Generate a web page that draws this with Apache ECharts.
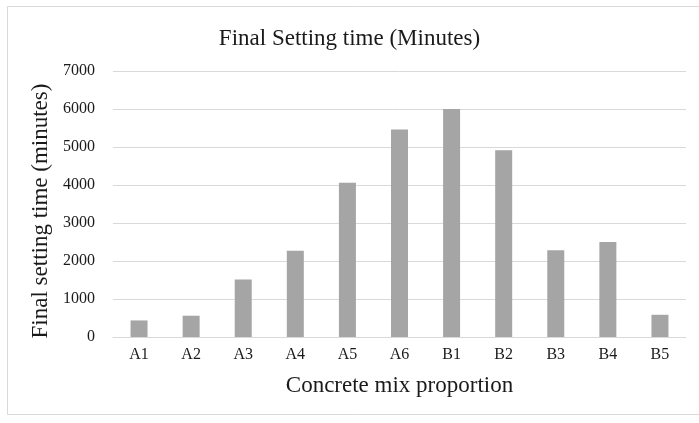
<!DOCTYPE html>
<html lang="en">
<head>
    <title>Final Setting time</title>
    <meta charset="utf-8">
</head>
<body style="margin:0">
<script type="text/javascript" src="https://cdn.jsdelivr.net/npm/echarts@6/dist/echarts.min.js"></script>
<div id="main" style="width: 699px;height: 423px"></div>
<script type="text/javascript">
    var mixes = ['A1', 'A2', 'A3', 'A4', 'A5', 'A6', 'B1', 'B2', 'B3', 'B4', 'B5'];
    var finalSetting = [436, 560, 1512, 2273, 4058, 5460, 6000, 4916, 2283, 2501, 585];
    var yTicks = [0, 1000, 2000, 3000, 4000, 5000, 6000, 7000];

    var serif = 'Liberation Serif';
    var myChart = echarts.init(document.getElementById('main'));
    var option = {
        animation: false,
        backgroundColor: '#fff',
        graphic: [{
            type: 'rect',
            shape: {x: 7.5, y: 6.5, width: 700, height: 408},
            style: {fill: 'none', stroke: '#d9d9d9', lineWidth: 1}
        }],
        title: {
            text: 'Final Setting time (Minutes)',
            left: 'center',
            top: 22,
            textStyle: {fontFamily: serif, fontSize: 23, fontWeight: 'normal', color: '#1a1a1a'}
        },
        grid: {left: 113, right: 13, top: 71, bottom: 86},
        xAxis: {
            type: 'category',
            data: mixes,
            name: 'Concrete mix proportion',
            nameLocation: 'middle',
            nameGap: 37,
            nameTextStyle: {fontFamily: serif, fontSize: 23, color: '#1a1a1a'},
            axisLine: {lineStyle: {color: '#d9d9d9'}},
            axisTick: {show: false},
            axisLabel: {fontFamily: serif, fontSize: 16, color: '#1a1a1a', margin: 10}
        },
        yAxis: {
            type: 'value',
            min: yTicks[0],
            max: yTicks[yTicks.length - 1],
            interval: 1000,
            name: 'Final setting time (minutes)',
            nameLocation: 'middle',
            nameGap: 52,
            nameTextStyle: {fontFamily: serif, fontSize: 23, color: '#1a1a1a', padding: [0, 14, 0, 0]},
            axisLine: {show: false},
            axisTick: {show: false},
            splitLine: {lineStyle: {color: '#d9d9d9'}},
            axisLabel: {
                fontFamily: serif, fontSize: 16, color: '#1a1a1a', margin: 18,
                formatter: function (v) { return String(v); }
            }
        },
        series: [{
            type: 'bar',
            data: finalSetting,
            barWidth: 17,
            itemStyle: {color: '#a5a5a5'}
        }]
    };
    myChart.setOption(option);
</script>
</body>
</html>
